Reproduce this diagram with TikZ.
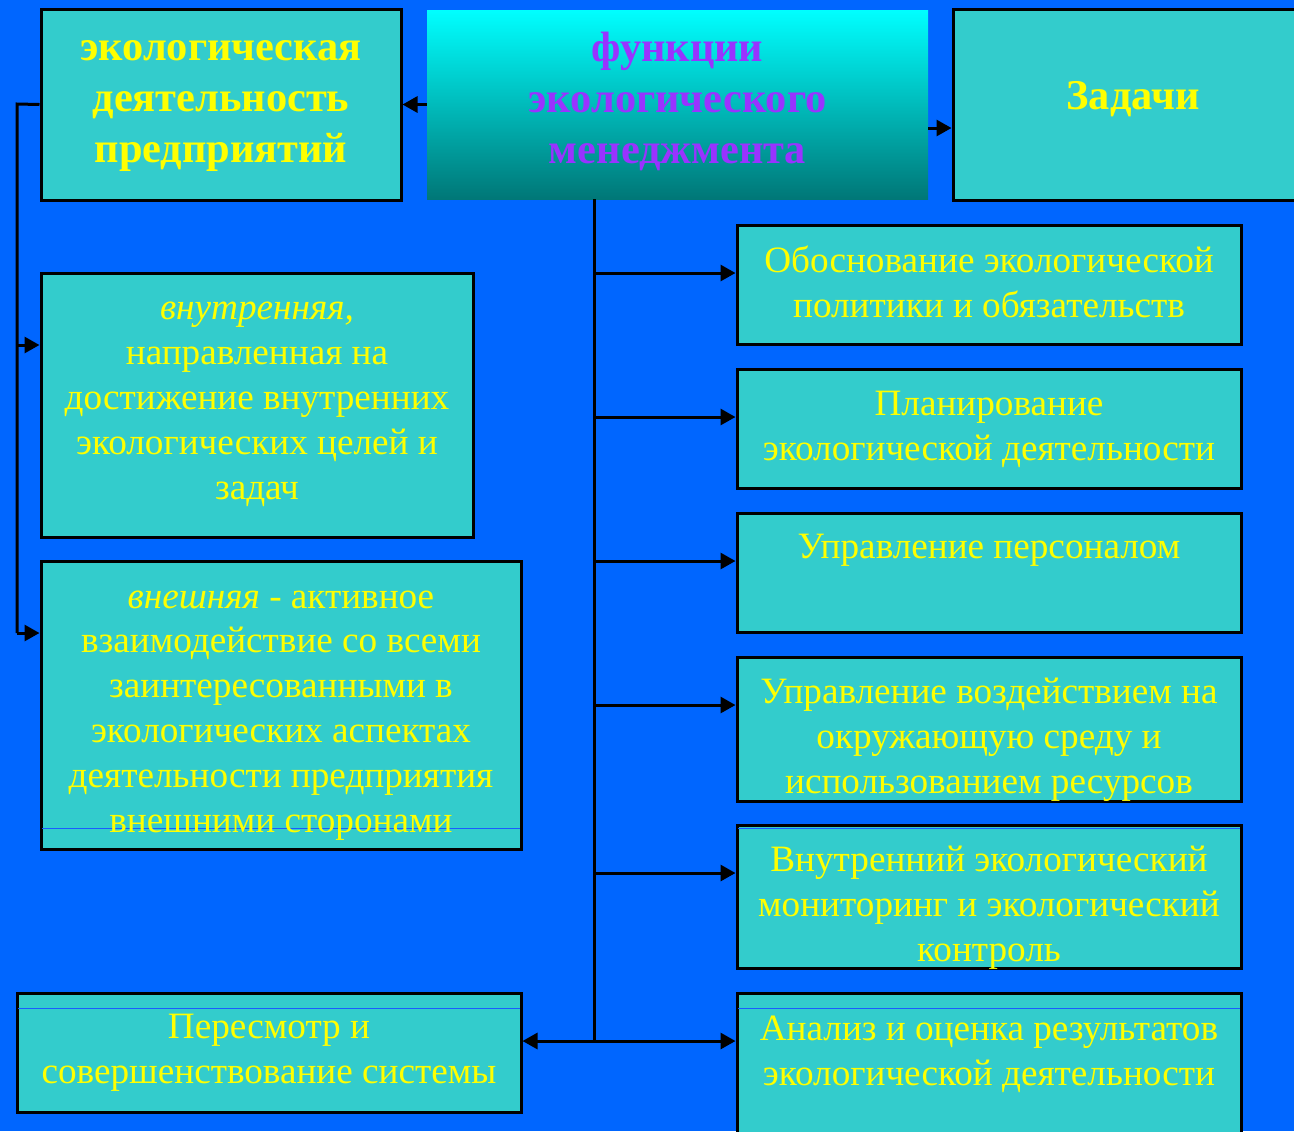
\documentclass[tikz,border=0pt]{standalone}
\usepackage{fontspec}
\setmainfont{Liberation Serif}
\usetikzlibrary{arrows.meta}
\definecolor{bgblue}{HTML}{0066FF}
\definecolor{boxfill}{HTML}{33CCCC}
\definecolor{txtyellow}{HTML}{FFFF00}
\definecolor{titlepurple}{HTML}{9933FF}
\definecolor{tealdark}{HTML}{007777}
\definecolor{artline}{HTML}{1A5CFF}
\begin{document}
\begin{tikzpicture}[x=0.5pt,y=-0.5pt,
  box/.style={draw=black, line width=1.5pt, fill=boxfill, inner sep=0pt},
  txt/.style={text=txtyellow, align=center, inner sep=0pt,
    font=\fontsize{18.6pt}{22.4pt}\selectfont,
    execute at begin node=\strut, execute at end node=\strut},
  btxt/.style={text=txtyellow, align=center, inner sep=0pt,
    font=\fontsize{21.2pt}{25.5pt}\selectfont\bfseries,
    execute at begin node=\strut, execute at end node=\strut},
  ptxt/.style={btxt, text=titlepurple},
  arr/.style={draw=black, line width=1.5pt, -{Triangle[length=7.5pt,width=8pt]}},
  wire/.style={draw=black, line width=1.5pt},
  artifact/.style={draw=artline, line width=0.5pt}]
\useasboundingbox (0,0) rectangle (1294,1131);
\fill[bgblue] (0,0) rectangle (1294,1131);

% top row
\node[box, minimum width=180pt, minimum height=95.5pt] (eco) at (221,104.5) {};
\node[btxt] (ecot) at (221,109) {экологическая\\деятельность\\предприятий};
\node[inner sep=0pt, minimum width=250.5pt, minimum height=94.5pt,
  top color=cyan, bottom color=tealdark] (title) at (677.5,104.5) {};
\node[ptxt] (titlet) at (677.5,105) {функции\\экологического\\менеджмента};
\node[box, minimum width=173.5pt, minimum height=95.5pt] (zad) at (1126.5,104.5) {};
\node[btxt] (zadt) at (1133,99) {Задачи};

% left column
\node[box, minimum width=216pt, minimum height=132pt] (inner) at (257,405) {};
\node[txt] (innert) at (257,407.5) {\textit{внутренняя,}\\направленная на\\достижение внутренних\\экологических целей и\\задач};
\node[box, minimum width=240pt, minimum height=144pt] (outer) at (281,705) {};
\draw[artifact] (42,828) -- (520,828);
\node[txt] (outert) at (281,718) {\textit{внешняя} - активное\\взаимодействие со всеми\\заинтересованными в\\экологических аспектах\\деятельности предприятия\\внешними сторонами};
\node[box, minimum width=252pt, minimum height=59.5pt] (review) at (269,1052.5) {};
\draw[artifact] (18,1008) -- (520,1008);
\node[txt] (reviewt) at (269,1055.5) {Пересмотр и\\совершенствование системы};

% right column
\node[box, minimum width=252pt, minimum height=59.5pt] (ra) at (989,284.5) {};
\node[txt] (rat) at (989,288) {Обоснование экологической\\политики и обязательств};
\node[box, minimum width=252pt, minimum height=59.5pt] (rb) at (989,428.5) {};
\node[txt] (rbt) at (989,432.5) {Планирование\\экологической деятельности};
\node[box, minimum width=252pt, minimum height=59.5pt] (rc) at (989,572.5) {};
\node[txt] (rct) at (989,550) {Управление персоналом};
\node[box, minimum width=252pt, minimum height=72pt] (rd) at (989,729) {};
\node[txt] (rdt) at (989,742.5) {Управление воздействием на\\окружающую среду и\\использованием ресурсов};
\node[box, minimum width=252pt, minimum height=71.5pt] (re) at (989,896.5) {};
\draw[artifact] (738,828) -- (1240,828);
\node[txt] (ret) at (989,910.5) {Внутренний экологический\\мониторинг и экологический\\контроль};
\node[box, minimum width=252pt, minimum height=73.5pt] (rf) at (989,1066.5) {};
\draw[artifact] (738,1008) -- (1240,1008);
\node[txt] (rft) at (989,1057.5) {Анализ и оценка результатов\\экологической деятельности};

% connectors: top
\draw[arr] (title.west) -- (eco.east);
\draw[arr] ([yshift=-11.75pt]title.east) -- ([yshift=-11.75pt]zad.west);

% left bus
\coordinate (lb0) at (17,104);
\coordinate (lb1) at (17,345);
\coordinate (lb2) at (17,633);
\draw[wire] (eco.west) -- (lb0) -- (lb2);
\draw[arr] (lb1) -- (inner.west |- lb1);
\draw[arr] (lb2) -- (outer.west |- lb2);

% trunk
\coordinate (tk0) at (594,199);
\coordinate (tk1) at (594,273);
\coordinate (tk2) at (594,417);
\coordinate (tk3) at (594,561);
\coordinate (tk4) at (594,705);
\coordinate (tk5) at (594,873);
\coordinate (tk6) at (594,1041);
\draw[wire] (tk0) -- (tk6);
\draw[arr] (tk1) -- (ra.west |- tk1);
\draw[arr] (tk2) -- (rb.west |- tk2);
\draw[arr] (tk3) -- (rc.west |- tk3);
\draw[arr] (tk4) -- (rd.west |- tk4);
\draw[arr] (tk5) -- (re.west |- tk5);
\draw[arr] (tk6) -- (rf.west |- tk6);
\draw[arr] (tk6) -- (review.east |- tk6);
\end{tikzpicture}
\end{document}
